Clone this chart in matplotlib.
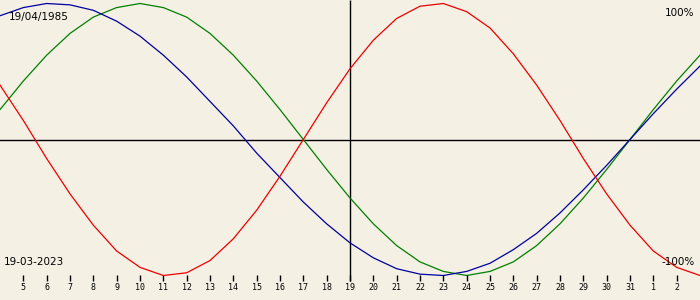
import matplotlib
matplotlib.use("Agg")
import matplotlib.pyplot as plt

# Days shown on the x axis (Mar 4 .. Apr 3); x position index
days = list(range(4, 35))
day_labels = ["5", "6", "7", "8", "9", "10", "11", "12", "13", "14", "15", "16",
              "17", "18", "19", "20", "21", "22", "23", "24", "25", "26", "27",
              "28", "29", "30", "31", "1", "2"]
tick_days = list(range(5, 34))

# Curve values (fraction of 100%), one per day
physical = [0.40, 0.14, -0.14, -0.40, -0.63, -0.82, -0.94, -1.00, -0.98, -0.89,
            -0.73, -0.52, -0.27, 0.00, 0.27, 0.52, 0.73, 0.89, 0.98, 1.00, 0.94,
            0.82, 0.63, 0.40, 0.14, -0.14, -0.40, -0.63, -0.82, -0.94, -1.00]
emotional = [0.22, 0.43, 0.62, 0.78, 0.90, 0.97, 1.00, 0.97, 0.90, 0.78, 0.62,
             0.43, 0.22, 0.00, -0.22, -0.43, -0.62, -0.78, -0.90, -0.97, -1.00,
             -0.97, -0.90, -0.78, -0.62, -0.43, -0.22, 0.00, 0.22, 0.43, 0.62]
intellectual = [0.91, 0.97, 1.00, 0.99, 0.95, 0.87, 0.76, 0.62, 0.46, 0.28, 0.10,
                -0.10, -0.28, -0.46, -0.62, -0.76, -0.87, -0.95, -0.99, -1.00,
                -0.97, -0.91, -0.81, -0.69, -0.54, -0.37, -0.19, 0.00, 0.19, 0.37,
                0.54]

birth_label = "19/04/1985"
date_label = "19-03-2023"
top_label = "100%"
bottom_label = "-100%"
today = 19

bg = "#f4f0e4"
fig = plt.figure(figsize=(7, 3), dpi=100, facecolor=bg)
ax = fig.add_axes([0, 0, 1, 1])
ax.set_facecolor(bg)
ax.set_xlim(4, 34)
# pixel p = 139.5 - 136*v  -> top (p=0) and bottom (p=300)
ax.set_ylim((139.5 - 300) / 136, 139.5 / 136)
for s in ax.spines.values():
    s.set_visible(False)
ax.set_xticks([])
ax.set_yticks([])

trans = ax.get_xaxis_transform()
ax.axhline(0, color="black", lw=1.0, zorder=1)
ax.vlines([today], 1 - 281 / 300, 1, color="black", lw=1.0, zorder=1,
          transform=trans)

ax.plot(days, physical, color="#ee0000", lw=0.9, zorder=3)
ax.plot(days, emotional, color="#008000", lw=0.9, zorder=2)
ax.plot(days, intellectual, color="#0000a0", lw=0.9, zorder=2)

ax.vlines(tick_days, 1 - 281 / 300, 1 - 275 / 300, color="black", lw=1.0,
          transform=trans)
for d, lab in zip(tick_days, day_labels):
    ax.text(d, 1 - 287.5 / 300, lab, transform=trans, ha="center", va="center",
            fontsize=6, family="DejaVu Sans Mono", color="black")

tf = ax.transAxes
ax.text(9 / 700, 1 - 17 / 300, birth_label, transform=tf, ha="left", va="center",
        fontsize=7.5, family="DejaVu Sans", color="black")
ax.text(4 / 700, 1 - 262 / 300, date_label, transform=tf, ha="left", va="center",
        fontsize=7.5, family="DejaVu Sans", color="black")
ax.text(694 / 700, 1 - 13 / 300, top_label, transform=tf, ha="right", va="center",
        fontsize=7.5, family="DejaVu Sans", color="black")
ax.text(695 / 700, 1 - 262 / 300, bottom_label, transform=tf, ha="right",
        va="center", fontsize=7.5, family="DejaVu Sans", color="black", zorder=5)

fig.savefig("out.png", dpi=100, facecolor=bg)
